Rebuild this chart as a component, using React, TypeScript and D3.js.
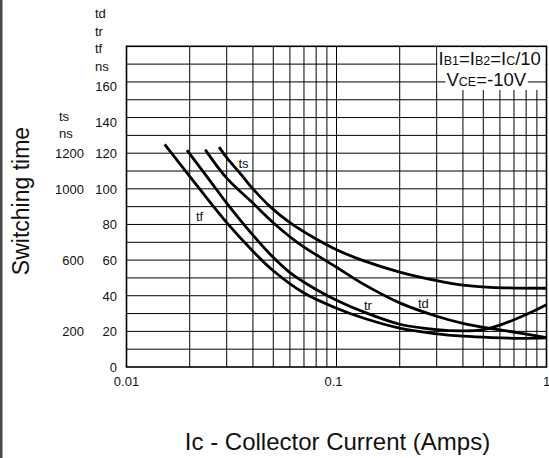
import { useEffect, useRef } from 'react'
import * as d3 from 'd3'

type Pt = [number, number]   // [Ic amps, time ns (ts in ns/10)]

// switching-time curves
const TS: Pt[] = [
  [0.0276, 123.4], [0.03, 117.5], [0.035, 108.3], [0.04, 100], [0.048, 90.3], [0.06, 81],
  [0.08, 71.8], [0.1, 65.8], [0.13, 60.3], [0.2, 53.3], [0.3, 48.5], [0.4, 46], [0.54, 44.7], [1, 44.2],
]
const TD: Pt[] = [
  [0.0237, 122], [0.03, 106], [0.04, 92], [0.05, 81], [0.065, 70], [0.08, 63], [0.1, 56],
  [0.13, 47.5], [0.2, 36], [0.3, 28.5], [0.4, 24.5], [0.55, 21.5], [0.75, 19], [1, 16.5],
]
const TR: Pt[] = [
  [0.0194, 121.7], [0.025, 104.5], [0.03, 92], [0.04, 74], [0.05, 61.5], [0.06, 53], [0.08, 43.5],
  [0.1, 37.5], [0.134, 31], [0.2, 24], [0.3, 21], [0.4, 20.3], [0.5, 21], [0.6, 23.5], [0.8, 29.5], [1, 35],
]
const TF: Pt[] = [
  [0.0152, 125], [0.02, 107], [0.03, 81], [0.04, 65], [0.05, 54], [0.07, 41.5], [0.1, 33],
  [0.134, 27.5], [0.2, 21.8], [0.3, 18.6], [0.4, 17.3], [0.55, 16.5], [0.75, 16.1], [1, 16.3],
]

const SERIES_NAMES = ['ts', 'td', 'tr', 'tf']
const SERIES_DATA = [TS, TD, TR, TF]
// where each curve's name sits, in data units
const SERIES_LABEL_AT: Pt[] = [[0.0341, 111.5], [0.2444, 33], [0.1352, 32], [0.0214, 82]]

const Y_TICKS = [0, 20, 40, 60, 80, 100, 120, 140, 160]
const TS_TICKS = [200, 600, 1000, 1200]
const X_TICKS = [0.01, 0.1, 1]
const X_TICK_LABELS = ['0.01', '0.1', '1']
const UNIT_LABELS = ['td', 'tr', 'tf', 'ns']
const TS_UNIT_LABELS = ['ts', 'ns']

const W = 549
const H = 458
const FONT = '"Liberation Sans", Arial, sans-serif'

export default function App() {
  const svgRef = useRef<SVGSVGElement>(null)

  useEffect(() => {
    if (!svgRef.current) return
    const svg = d3.select(svgRef.current)
    svg.selectAll('*').remove()

    const x = d3.scaleLog().domain([0.01, 1]).range([126.5, 546.5])
    const y = d3.scaleLinear().domain([0, 180]).range([367, 46.3])
    const [x0, x1] = x.range()
    const [y0, y1] = y.range()

    svg.append('rect').attr('width', W).attr('height', H).attr('fill', '#fff')
    svg.append('rect').attr('x', 0).attr('y', 0).attr('width', 2.5).attr('height', H).attr('fill', '#4a4a4a')

    // Grid
    const grid = svg.append('g').attr('stroke', '#000').attr('stroke-width', 1)
    d3.range(10, 180, 10).forEach(v => {
      grid.append('line').attr('x1', x0).attr('x2', x1).attr('y1', y(v)).attr('y2', y(v))
    })
    const minor: number[] = []
    ;[0.01, 0.1].forEach(d => d3.range(2, 10).forEach(k => minor.push(k * d)))
    minor.push(0.1)
    minor.forEach(v => {
      grid.append('line').attr('x1', x(v)).attr('x2', x(v)).attr('y1', y0).attr('y2', y1)
    })

    // Condition box (upper right) blanks the grid behind it
    const bx = x(0.3) + 0.8
    svg.append('rect').attr('x', bx).attr('y', y1 + 1).attr('width', x1 - bx - 1).attr('height', 90 - y1 - 1).attr('fill', '#fff')
    svg.append('line').attr('x1', bx).attr('x2', x1).attr('y1', y(160)).attr('y2', y(160))
      .attr('stroke', '#000').attr('stroke-width', 1)

    const big = 18.5, small = 12.5
    const cond1 = svg.append('text').attr('x', 438.5).attr('y', 65)
      .attr('font-family', FONT).attr('font-size', big).attr('fill', '#111')
    cond1.append('tspan').text('I')
    cond1.append('tspan').attr('font-size', small).text('B1')
    cond1.append('tspan').text('=I')
    cond1.append('tspan').attr('font-size', small).text('B2')
    cond1.append('tspan').text('=I')
    cond1.append('tspan').attr('font-size', small).text('C')
    cond1.append('tspan').text('/10')

    const vceBg = svg.append('rect').attr('fill', '#fff')
    const cond2 = svg.append('text').attr('x', 446.5).attr('y', 86)
      .attr('font-family', FONT).attr('font-size', big).attr('fill', '#111')
    cond2.append('tspan').text('V')
    cond2.append('tspan').attr('font-size', small).text('CE')
    cond2.append('tspan').text('=-10V')
    const bb = (cond2.node() as SVGTextElement).getBBox()
    vceBg.attr('x', bb.x - 1).attr('y', bb.y).attr('width', bb.width + 2).attr('height', 90 - bb.y)

    // Frame
    svg.append('rect').attr('x', x0).attr('y', y1).attr('width', x1 - x0).attr('height', y0 - y1)
      .attr('fill', 'none').attr('stroke', '#000').attr('stroke-width', 1.6)

    // Curves
    const line = d3.line<Pt>().x(d => x(d[0])).y(d => y(d[1])).curve(d3.curveCatmullRom.alpha(0.5))
    SERIES_DATA.forEach(data => {
      svg.append('path').attr('d', line(data)).attr('fill', 'none')
        .attr('stroke', '#000').attr('stroke-width', 2.8).attr('stroke-linecap', 'butt')
    })
    SERIES_NAMES.forEach((name, i) => {
      const [lx, ly] = SERIES_LABEL_AT[i]
      svg.append('text').attr('x', x(lx)).attr('y', y(ly))
        .attr('font-family', FONT).attr('font-size', 13).attr('fill', '#111').text(name)
    })

    // Y tick labels (td/tr/tf scale and ts scale)
    const txt = (sel: d3.Selection<SVGGElement, unknown, null, undefined>) =>
      sel.attr('font-family', FONT).attr('font-size', 13).attr('fill', '#111')
    const yl = svg.append('g').call(txt).attr('text-anchor', 'end')
    Y_TICKS.forEach(v => {
      yl.append('text').attr('x', 117).attr('y', y(v) + 5 + (v >= 140 ? 4 : 0)).text(String(v))
    })
    TS_TICKS.forEach(v => {
      yl.append('text').attr('x', 84).attr('y', y(v / 10) + 5).text(String(v))
    })
    const ul = svg.append('g').call(txt)
    UNIT_LABELS.forEach((t, i) => {
      ul.append('text').attr('x', 95).attr('y', 18.3 + i * 17.4).text(t)
    })
    TS_UNIT_LABELS.forEach((t, i) => {
      ul.append('text').attr('x', 59).attr('y', 120.5 + i * 17.5).text(t)
    })

    // X tick labels
    const xl = svg.append('g').call(txt).attr('text-anchor', 'middle')
    X_TICKS.forEach((v, i) => {
      xl.append('text').attr('x', x(v) - (i === 1 ? 3 : 0)).attr('y', 385.7).text(X_TICK_LABELS[i])
    })

    // Axis titles
    svg.append('text').attr('x', 337.5).attr('y', 450).attr('text-anchor', 'middle')
      .attr('font-family', FONT).attr('font-size', 24).attr('fill', '#111')
      .text('Ic - Collector Current (Amps)')
    svg.append('text').attr('transform', 'translate(29,201) rotate(-90)').attr('text-anchor', 'middle')
      .attr('font-family', FONT).attr('font-size', 23).attr('fill', '#111')
      .text('Switching time')
  }, [])

  return (
    <svg ref={svgRef} width={W} height={H}
      style={{ position: 'absolute', left: 0, top: 0, display: 'block' }} />
  )
}
